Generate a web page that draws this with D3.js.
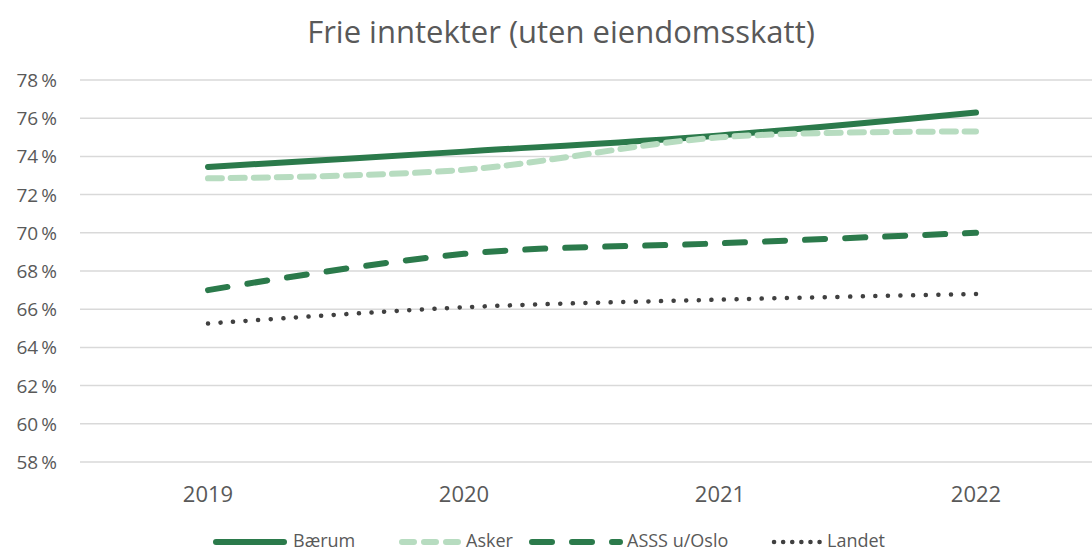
<!DOCTYPE html>
<html>
<head>
<meta charset="utf-8">
<script src="https://cdn.jsdelivr.net/npm/d3@7"></script>
<style>
  body { margin: 0; background: #fff; }
  text { font-family: "Open Sans", Calibri, sans-serif; }
</style>
</head>
<body>
<div id="chart"></div>
<script>
// data
const years = ["2019", "2020", "2021", "2022"];
const baerum = [73.45, 74.25, 75.1, 76.3];
const asker = [72.85, 73.3, 75.0, 75.3];
const asss = [67.0, 68.9, 69.45, 70.0];
const landet = [65.25, 66.1, 66.5, 66.8];
const yTicks = [58, 60, 62, 64, 66, 68, 70, 72, 74, 76, 78];

const series = [
  { name: "Bærum", values: baerum, color: "#2b7a4b", width: 6, dash: null, cap: "round" },
  { name: "Asker", values: asker, color: "#b7dcc0", width: 6, dash: "14,9", cap: "round" },
  { name: "ASSS u/Oslo", values: asss, color: "#2b7a4b", width: 6, dash: "20,20", cap: "round" },
  { name: "Landet", values: landet, color: "#404040", width: 4.5, dash: "0.1,12.5", cap: "round" }
];

const W = 1092, H = 554;
const margin = { left: 80, right: -12, top: 80, bottom: 92 };

const svg = d3.select("#chart").append("svg")
  .attr("width", W).attr("height", H);

const x = d3.scalePoint().domain(years)
  .range([margin.left, W - margin.right]).padding(0.5);
const y = d3.scaleLinear().domain([58, 78])
  .range([H - margin.bottom, margin.top]);

// title
svg.append("text")
  .attr("x", 561).attr("y", 43)
  .attr("text-anchor", "middle")
  .attr("font-size", 31)
  .attr("fill", "#595959")
  .text("Frie inntekter (uten eiendomsskatt)");

// grid
svg.append("g").selectAll("line").data(yTicks).enter().append("line")
  .attr("x1", margin.left).attr("x2", W)
  .attr("y1", d => y(d)).attr("y2", d => y(d))
  .attr("stroke", "#d9d9d9").attr("stroke-width", 1.5);

// y labels
svg.append("g").selectAll("text").data(yTicks).enter().append("text")
  .attr("x", 57).attr("y", d => y(d) + 7)
  .attr("text-anchor", "end")
  .attr("font-size", 19).attr("fill", "#595959")
  .text(d => d + "\u2009%");

// x labels
svg.append("g").selectAll("text").data(years).enter().append("text")
  .attr("x", d => x(d)).attr("y", 502)
  .attr("text-anchor", "middle")
  .attr("font-size", 22).attr("fill", "#595959")
  .text(d => d);

const line = d3.line()
  .x((d, i) => x(years[i]))
  .y(d => y(d))
  .curve(d3.curveCatmullRom.alpha(0.5));

series.forEach(s => {
  svg.append("path")
    .datum(s.values)
    .attr("d", line)
    .attr("fill", "none")
    .attr("stroke", s.color)
    .attr("stroke-width", s.width)
    .attr("stroke-linecap", s.cap)
    .attr("stroke-dasharray", s.dash);
});

// legend
const legendPos = [
  { lx: 216, tx: 293, len: 68 },
  { lx: 402, tx: 466, len: 56 },
  { lx: 532, tx: 627, len: 88 },
  { lx: 774, tx: 827, len: 46 }
];
const legend = svg.append("g");
series.forEach((s, i) => {
  const p = legendPos[i];
  legend.append("line")
    .attr("x1", p.lx).attr("x2", p.lx + p.len)
    .attr("y1", 542).attr("y2", 542)
    .attr("stroke", s.color)
    .attr("stroke-width", s.width)
    .attr("stroke-linecap", s.cap)
    .attr("stroke-dasharray", i == 3 ? "0.1,9" : (i == 1 ? "12,10" : s.dash));
  legend.append("text")
    .attr("x", p.tx).attr("y", 547)
    .attr("font-size", 18).attr("fill", "#595959")
    .text(s.name);
});
</script>
</body>
</html>
